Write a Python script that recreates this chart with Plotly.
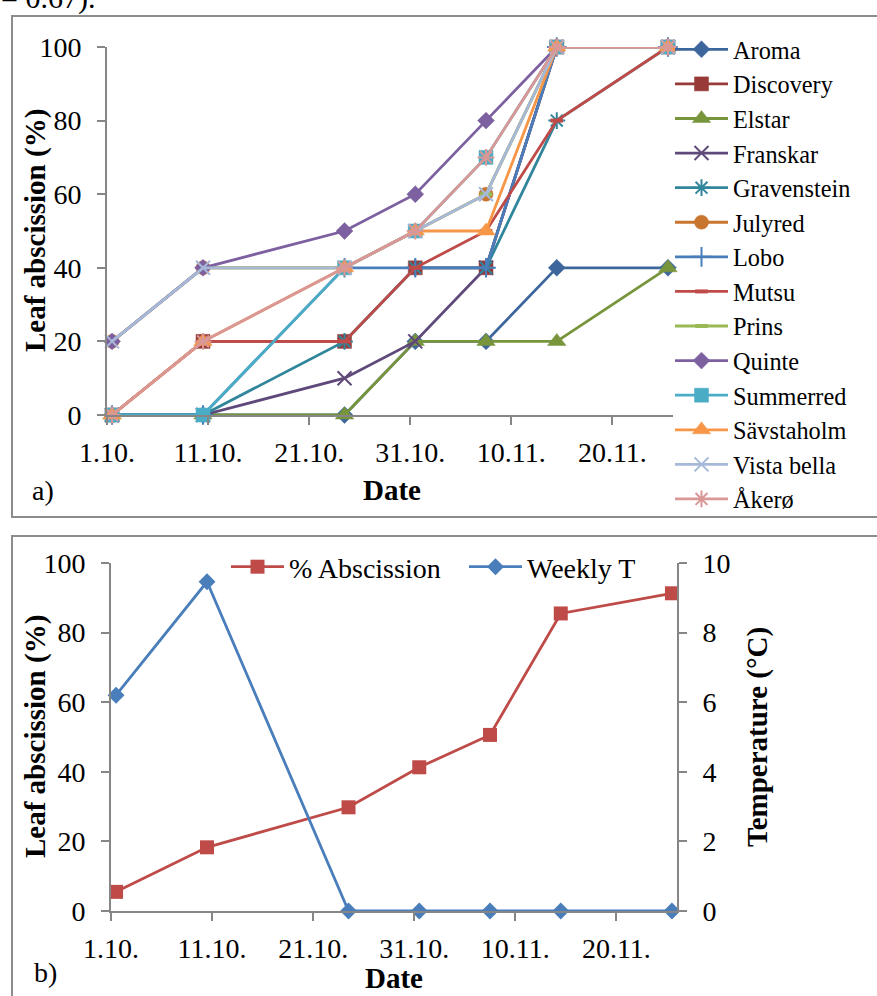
import plotly.graph_objects as go

# ---- data -------------------------------------------------------------
# sampling dates (mid-day, so points sit in the middle of each day slot)
dates = ["2011-10-01 12:00", "2011-10-10 12:00", "2011-10-24 12:00",
         "2011-10-31 12:00", "2011-11-07 12:00", "2011-11-14 12:00",
         "2011-11-25 12:00"]

tick_dates = ["2011-10-01", "2011-10-11", "2011-10-21",
              "2011-10-31", "2011-11-10", "2011-11-20"]
tick_text = ["1.10.", "11.10.", "21.10.", "31.10.", "10.11.", "20.11."]

# leaf abscission (%) per cultivar
aroma = [0, 0, 0, 20, 20, 40, 40]
discovery = [0, 20, 20, 40, 40, 100, 100]
elstar = [0, 0, 0, 20, 20, 20, 40]
franskar = [0, 0, 10, 20, 40, 100, 100]
gravenstein = [0, 0, 20, 40, 40, 80, 100]
julyred = [20, 40, 40, 50, 60, 100, 100]
lobo = [0, 0, 40, 40, 40, 100, 100]
mutsu = [0, 20, 20, 40, 50, 80, 100]
prins = [20, 40, 40, 50, 60, 100, 100]
quinte = [20, 40, 50, 60, 80, 100, 100]
summerred = [0, 0, 40, 50, 70, 100, 100]
savstaholm = [0, 20, 40, 50, 50, 100, 100]
vista_bella = [20, 40, 40, 50, 60, 100, 100]
akero = [0, 20, 40, 50, 70, 100, 100]

# mean abscission and weekly temperature
abscission_mean = [5.5, 18.3, 29.8, 41.3, 50.6, 85.5, 91.3]
weekly_t = [6.2, 9.46, 0, 0, 0, 0, 0]

# ---- styling ------------------------------------------------------------
W, H = 877, 996
FONT = "Liberation Serif, Times New Roman, serif"
AX = "#868686"


def px(x):
    return x / W


def py(y):
    return 1 - y / H


cultivars = [
    ("Aroma", aroma, "#3D679C", "diamond", 13),
    ("Discovery", discovery, "#983A38", "square", 14),
    ("Elstar", elstar, "#78953C", "triangle-up", 16),
    ("Franskar", franskar, "#5F497A", "x-thin-open", 14),
    ("Gravenstein", gravenstein, "#31869C", "asterisk-open", 14),
    ("Julyred", julyred, "#C8752F", "circle", 14),
    ("Lobo", lobo, "#4A7EBB", "cross-thin-open", 14),
    ("Mutsu", mutsu, "#BE4B48", "line-ew-open", 9),
    ("Prins", prins, "#98B954", "line-ew-open", 9),
    ("Quinte", quinte, "#7D60A0", "diamond", 13),
    ("Summerred", summerred, "#4BACC6", "square", 14),
    ("Sävstaholm", savstaholm, "#F79646", "triangle-up", 16),
    ("Vista bella", vista_bella, "#A7B9D9", "x-thin-open", 14),
    ("Åkerø", akero, "#D99795", "asterisk-open", 14),
]

fig = go.Figure()

for name, vals, color, symbol, size in cultivars:
    open_sym = symbol.endswith("-open")
    lw = 4 if symbol.startswith("line-ew") else 2
    fig.add_trace(go.Scatter(
        x=dates, y=vals, name=name, mode="lines+markers",
        xaxis="x", yaxis="y", legend="legend",
        line=dict(color=color, width=2.8),
        marker=dict(symbol=symbol, size=size, color=color,
                    line=dict(color=color, width=lw if open_sym else 0.5)),
        cliponaxis=False,
    ))

fig.add_trace(go.Scatter(
    x=dates, y=abscission_mean, name="% Abscission", mode="lines+markers",
    xaxis="x2", yaxis="y2", legend="legend2",
    line=dict(color="#BE4B48", width=2.8),
    marker=dict(symbol="square", size=14, color="#BE4B48"),
    cliponaxis=False,
))
fig.add_trace(go.Scatter(
    x=dates, y=weekly_t, name="Weekly T", mode="lines+markers",
    xaxis="x2", yaxis="y3", legend="legend3",
    line=dict(color="#4A7EBB", width=2.8),
    marker=dict(symbol="diamond", size=13, color="#4A7EBB"),
    cliponaxis=False,
))

tick_font = dict(family=FONT, size=28, color="black")

xcommon = dict(type="date", range=["2011-10-01", "2011-11-26"],
               tickvals=tick_dates, ticktext=tick_text,
               showgrid=False, zeroline=False, showline=True,
               linecolor=AX, linewidth=1.6, ticks="outside", ticklen=8,
               tickwidth=1.6, tickcolor=AX, tickfont=tick_font,
               ticklabelstandoff=4, automargin=False)
ycommon = dict(showgrid=False, zeroline=False, showline=True,
               linecolor=AX, linewidth=1.6, ticks="outside", ticklen=8,
               tickwidth=1.6, tickcolor=AX, tickfont=tick_font,
               ticklabelstandoff=10, automargin=False)

legend_font = dict(family=FONT, size=28, color="black")

fig.update_layout(
    width=W, height=H, autosize=False,
    margin=dict(l=0, r=0, t=0, b=0, autoexpand=False),
    paper_bgcolor="white", plot_bgcolor="white",
    showlegend=True,
    xaxis=dict(domain=[px(107), px(673)], anchor="y", **xcommon),
    yaxis=dict(domain=[py(415), py(47)], anchor="x", range=[0, 100],
               tickvals=[0, 20, 40, 60, 80, 100], **ycommon),
    xaxis2=dict(domain=[px(111), px(677)], anchor="y2", **xcommon),
    yaxis2=dict(domain=[py(911), py(563)], anchor="x2", range=[0, 100],
                tickvals=[0, 20, 40, 60, 80, 100], **ycommon),
    yaxis3=dict(overlaying="y2", side="right", anchor="x2", range=[0, 10],
                tickvals=[0, 2, 4, 6, 8, 10], **ycommon),
    legend=dict(x=px(670), y=py(27), xanchor="left", yanchor="top",
                itemwidth=53, bgcolor="rgba(0,0,0,0)",
                font=dict(family=FONT, size=24.3, color="black")),
    legend2=dict(x=px(226), y=py(567), xanchor="left", yanchor="middle",
                 orientation="h", itemwidth=53, bgcolor="rgba(0,0,0,0)",
                 font=legend_font),
    legend3=dict(x=px(464), y=py(567), xanchor="left", yanchor="middle",
                 orientation="h", itemwidth=53, bgcolor="rgba(0,0,0,0)",
                 font=legend_font),
)

# panel frames
fig.add_shape(type="rect", xref="paper", yref="paper",
              x0=px(12), x1=1.02, y0=py(517), y1=py(16),
              line=dict(color="#8C8C8C", width=2), layer="below")
fig.add_shape(type="rect", xref="paper", yref="paper",
              x0=px(12), x1=1.02, y0=-0.05, y1=py(536),
              line=dict(color="#8C8C8C", width=2), layer="below")


def label(text, x, y, bold=False, angle=0, size=29, xanchor="center"):
    fig.add_annotation(
        text=f"<b>{text}</b>" if bold else text,
        xref="paper", yref="paper", x=px(x), y=py(y),
        xanchor=xanchor, yanchor="middle", showarrow=False, textangle=angle,
        font=dict(family=FONT, size=size, color="black"))


# axis titles and panel tags
label("Leaf abscission (%)", 35, 231, bold=True, angle=-90)
label("Date", 392, 490, bold=True)
label("a)", 43, 490, size=28)
label("Leaf abscission (%)", 35, 737, bold=True, angle=-90)
label("Temperature (°C)", 757, 737, bold=True, angle=-90)
label("Date", 394, 978, bold=True)
label("b)", 45, 972, size=28)
label("= 0.67).", -1, -2, size=30, xanchor="left")

fig.write_html("out.html")
